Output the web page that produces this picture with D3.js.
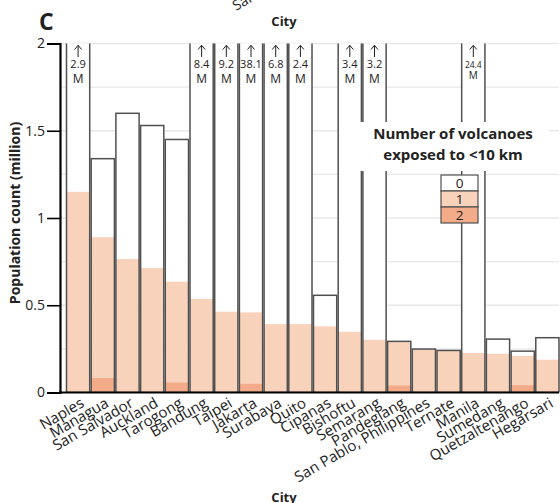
<!DOCTYPE html>
<html>
<head>
<meta charset="utf-8">
<script src="https://cdn.jsdelivr.net/npm/d3@7"></script>
<style>
  body { margin: 0; background: #fff; }
  text { font-family: "Open Sans", "DejaVu Sans", sans-serif; fill: #222; }
</style>
</head>
<body>
<svg id="chart" width="560" height="503"></svg>
<script>
// cities, ordered by population exposed to 1+ volcano
var cities = ["Naples", "Managua", "San Salvador", "Auckland", "Tarogong", "Bandung",
  "Taipei", "Jakarta", "Surabaya", "Quito", "Cipanas", "Bishoftu", "Semarang",
  "Pandeglang", "San Pablo, Philippines", "Ternate", "Manila", "Sumedang",
  "Quetzaltenango", "Hegarsari"];

// total population (million)
var totalPop = [2.9, 1.34, 1.6, 1.53, 1.45, 8.4, 9.2, 38.1, 6.8, 2.4, 0.557, 3.4, 3.2,
  0.293, 0.249, 0.241, 24.4, 0.306, 0.237, 0.314];

// population exposed to 1 volcano (<10 km)
var pop1 = [1.15, 0.89, 0.765, 0.714, 0.635, 0.536, 0.463, 0.459, 0.392, 0.392, 0.379,
  0.348, 0.302, 0.29, 0.247, 0.239, 0.226, 0.222, 0.21, 0.188];

// population exposed to 2 volcanoes
var pop2 = [0, 0.083, 0, 0, 0.057, 0, 0, 0.05, 0, 0, 0, 0, 0, 0.04, 0, 0, 0, 0, 0.042, 0];

var yTicks = [0, 0.5, 1, 1.5, 2];
var gridVals = [0.25, 0.5, 0.75, 1, 1.25, 1.5, 1.75, 2];
var legendKeys = ["0", "1", "2"];

var colors = d3.scaleOrdinal()
  .domain(legendKeys)
  .range(["#ffffff", "#f8d2ba", "#f4ab8a"]);

var svg = d3.select("#chart");

var x = d3.scaleBand()
  .domain(cities)
  .range([66, 559.5])
  .paddingInner(0.06)
  .paddingOuter(0.02);

var y = d3.scaleLinear()
  .domain([0, 2])
  .range([392.5, 43.5]);

var data = cities.map(function(c, i) {
  return { city: c, total: totalPop[i], one: pop1[i], two: pop2[i] };
});

svg.append("defs").append("clipPath")
  .attr("id", "plot-clip")
  .append("rect")
  .attr("x", 55).attr("y", y(2))
  .attr("width", 510).attr("height", y(0) - y(2));

// gridlines
svg.append("g").selectAll("line")
  .data(gridVals)
  .enter().append("line")
  .attr("x1", 60).attr("x2", 559)
  .attr("y1", function(d) { return y(d); })
  .attr("y2", function(d) { return y(d); })
  .style("stroke", "#e8e8e8")
  .style("stroke-width", 1.3);

var bars = svg.append("g")
  .attr("clip-path", "url(#plot-clip)")
  .selectAll(".bar")
  .data(data)
  .enter().append("g")
  .attr("class", "bar")
  .attr("transform", function(d) { return "translate(" + x(d.city) + ",0)"; });

function barTop(v) { return y(Math.min(v, 2.05)); }

bars.append("rect")
  .attr("width", x.bandwidth())
  .attr("y", function(d) { return barTop(d.total); })
  .attr("height", function(d) { return y(0) - barTop(d.total); })
  .style("fill", "#fff");

bars.append("rect")
  .attr("width", x.bandwidth())
  .attr("y", function(d) { return y(d.one); })
  .attr("height", function(d) { return y(0) - y(d.one); })
  .style("fill", colors("1"));

bars.append("rect")
  .attr("width", x.bandwidth())
  .attr("y", function(d) { return y(d.two); })
  .attr("height", function(d) { return y(0) - y(d.two); })
  .style("fill", colors("2"));

bars.append("rect")
  .attr("width", x.bandwidth())
  .attr("y", function(d) { return barTop(d.total); })
  .attr("height", function(d) { return y(0) - barTop(d.total); })
  .style("fill", "none")
  .style("stroke", "#505050")
  .style("stroke-width", 1.5);

// off-scale totals: arrow + value + "M"
var over = bars.filter(function(d) { return d.total > 2; });
var mid = x.bandwidth() / 2;
over.append("line")
  .attr("x1", mid).attr("x2", mid)
  .attr("y1", 45.5).attr("y2", 57)
  .style("stroke", "#222").style("stroke-width", 1);
over.append("path")
  .attr("d", "M" + (mid - 3.5) + ",49.5L" + mid + ",45.3L" + (mid + 3.5) + ",49.5")
  .style("fill", "none")
  .style("stroke", "#222").style("stroke-width", 1);
over.append("text")
  .attr("x", mid)
  .attr("y", 68)
  .style("text-anchor", "middle")
  .style("font-size", function(d) { return d.city == "Manila" ? "8.5px" : "11px"; })
  .text(function(d) { return d.total; });
over.append("text")
  .attr("x", mid)
  .attr("y", function(d) { return d.city == "Manila" ? 79 : 83; })
  .style("text-anchor", "middle")
  .style("font-size", function(d) { return d.city == "Manila" ? "10px" : "12px"; })
  .text("M");

// y axis
var yAxis = svg.append("g")
  .attr("transform", "translate(60,0)")
  .call(d3.axisLeft(y).tickValues(yTicks).tickSize(13).tickPadding(2)
    .tickFormat(function(d) { return d; }));
yAxis.select(".domain").style("stroke", "#000").style("stroke-width", 2.2);
yAxis.selectAll(".tick line").style("stroke", "#000").style("stroke-width", 1.6);
yAxis.selectAll(".tick text")
  .style("font-family", "Open Sans, sans-serif")
  .style("font-size", "14px")
  .style("fill", "#222");

// x axis line
svg.append("line")
  .attr("x1", 59).attr("x2", 559)
  .attr("y1", y(0)).attr("y2", y(0))
  .style("stroke", "#000")
  .style("stroke-width", 2.2);

// x labels
svg.append("g").selectAll("text")
  .data(cities)
  .enter().append("text")
  .attr("transform", function(d) {
    return "translate(" + (x(d) + x.bandwidth() / 2 + 7) + ",406) rotate(-30)";
  })
  .style("text-anchor", "end")
  .style("font-size", "15px")
  .text(function(d) { return d; });

// axis titles
svg.append("text")
  .attr("transform", "translate(20,213) rotate(-90)")
  .style("text-anchor", "middle")
  .style("font-size", "14px")
  .style("font-weight", "bold")
  .text("Population count (million)");

svg.append("text")
  .attr("x", 284).attr("y", 25.5)
  .style("text-anchor", "middle")
  .style("font-size", "13px")
  .style("font-weight", "bold")
  .text("City");

svg.append("text")
  .attr("x", 284).attr("y", 502)
  .style("text-anchor", "middle")
  .style("font-size", "13px")
  .style("font-weight", "bold")
  .text("City");

svg.append("text")
  .attr("x", 39).attr("y", 30)
  .style("font-size", "23px")
  .style("font-weight", "bold")
  .text("C");

// cut label from the panel above
svg.append("text")
  .attr("transform", "translate(236,11) rotate(-30)")
  .style("font-size", "14px")
  .text("San Salvador");

// legend
var lg = svg.append("g");
lg.append("rect")
  .attr("x", 359).attr("y", 122)
  .attr("width", 190).attr("height", 49)
  .style("fill", "#fff");
lg.append("text")
  .attr("x", 453).attr("y", 139)
  .style("text-anchor", "middle")
  .style("font-size", "15px")
  .style("font-weight", "bold")
  .text("Number of volcanoes");
lg.append("text")
  .attr("x", 453).attr("y", 160)
  .style("text-anchor", "middle")
  .style("font-size", "15px")
  .style("font-weight", "bold")
  .text("exposed to <10 km");

var box = 16;
var item = lg.selectAll(".legend")
  .data(legendKeys)
  .enter().append("g")
  .attr("class", "legend")
  .attr("transform", function(d, i) { return "translate(441," + (175 + i * box) + ")"; });
item.append("rect")
  .attr("width", 37).attr("height", box)
  .style("fill", colors)
  .style("stroke", "#505050")
  .style("stroke-width", 1.2);
item.append("text")
  .attr("x", 18.5).attr("y", box / 2)
  .attr("dy", ".35em")
  .style("text-anchor", "middle")
  .style("font-size", "13.5px")
  .text(function(d) { return d; });
</script>
</body>
</html>
